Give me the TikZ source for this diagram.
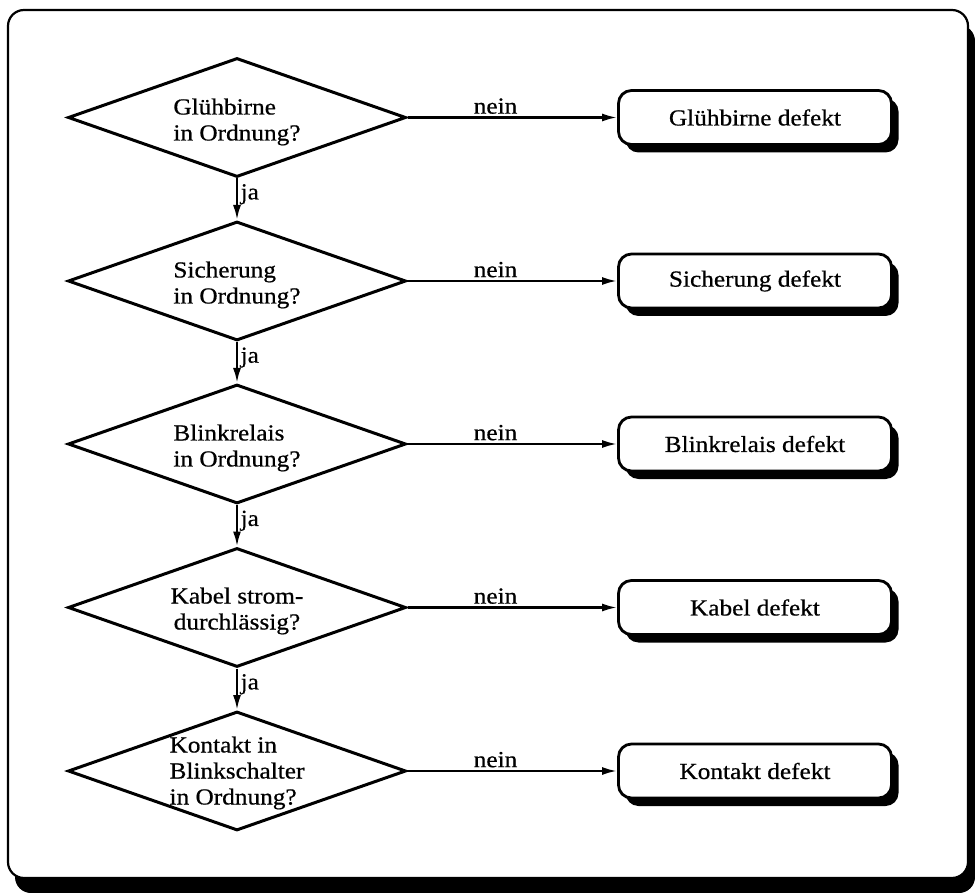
\documentclass[tikz,border=0pt]{standalone}
\usepackage{fontspec}
\setmainfont{Liberation Serif}[FakeStretch=1.1,FakeBold=0.6]
\usetikzlibrary{shapes.geometric,shadows,arrows.meta}
\begin{document}
\begin{tikzpicture}[x=1pt,y=-1pt,
  txt/.style={font=\fontsize{23}{26}\selectfont},
  question/.style={diamond, draw, line width=3pt, minimum width=338pt,
    minimum height=119pt, inner sep=0pt},
  qtext/.style={txt, align=left, inner sep=0pt},
  result/.style={rectangle, rounded corners=13pt, draw, line width=2.8pt,
    fill=white, minimum width=273pt, minimum height=54pt, txt,
    drop shadow={shadow xshift=7pt, shadow yshift=-8pt, fill=black, opacity=1}},
  flow/.style={line width=2.3pt, -{Latex[length=15pt,width=8pt]}},
  lbl/.style={txt, inner sep=2.5pt}
]
\useasboundingbox (0,0) rectangle (975,893);

% outer frame with heavy drop shadow
\draw[line width=2.2pt, rounded corners=16pt, fill=white,
  drop shadow={shadow xshift=7pt, shadow yshift=-15pt, fill=black, opacity=1}]
  (8,10) rectangle (968,878);

% decisions
\node[question] (q1) at (237,117.5) {};
\node[qtext] (q1t) at (237,122) {Glühbirne\\in Ordnung?};
\node[question] (q2) at (237,281) {};
\node[qtext] (q2t) at (237,285) {Sicherung\\in Ordnung?};
\node[question] (q3) at (237,444) {};
\node[qtext] (q3t) at (237,448) {Blinkrelais\\in Ordnung?};
\node[question] (q4) at (237,607.5) {};
\node[qtext, align=center] (q4t) at (237,611) {Kabel strom-\\durchlässig?};
\node[question] (q5) at (237,771) {};
\node[qtext] (q5t) at (237,773) {Kontakt in\\Blinkschalter\\in Ordnung?};

% results
\node[result] (r1) at (755,117.5) {Glühbirne defekt};
\node[result] (r2) at (755,281) {Sicherung defekt};
\node[result] (r3) at (755,444) {Blinkrelais defekt};
\node[result] (r4) at (755,607.5) {Kabel defekt};
\node[result] (r5) at (755,771) {Kontakt defekt};

% "nein" branches
\draw[flow] (q1.east) -- node[lbl, above, pos=0.42] (n1) {nein} (r1.west);
\draw[flow] (q2.east) -- node[lbl, above, pos=0.42] (n2) {nein} (r2.west);
\draw[flow] (q3.east) -- node[lbl, above, pos=0.42] (n3) {nein} (r3.west);
\draw[flow] (q4.east) -- node[lbl, above, pos=0.42] (n4) {nein} (r4.west);
\draw[flow] (q5.east) -- node[lbl, above, pos=0.42] (n5) {nein} (r5.west);

% "ja" chain
\draw[flow] (q1.south) -- node[lbl, right, pos=0.38] (j1) {ja} (q2.north);
\draw[flow] (q2.south) -- node[lbl, right, pos=0.38] (j2) {ja} (q3.north);
\draw[flow] (q3.south) -- node[lbl, right, pos=0.38] (j3) {ja} (q4.north);
\draw[flow] (q4.south) -- node[lbl, right, pos=0.38] (j4) {ja} (q5.north);
\end{tikzpicture}
\end{document}
